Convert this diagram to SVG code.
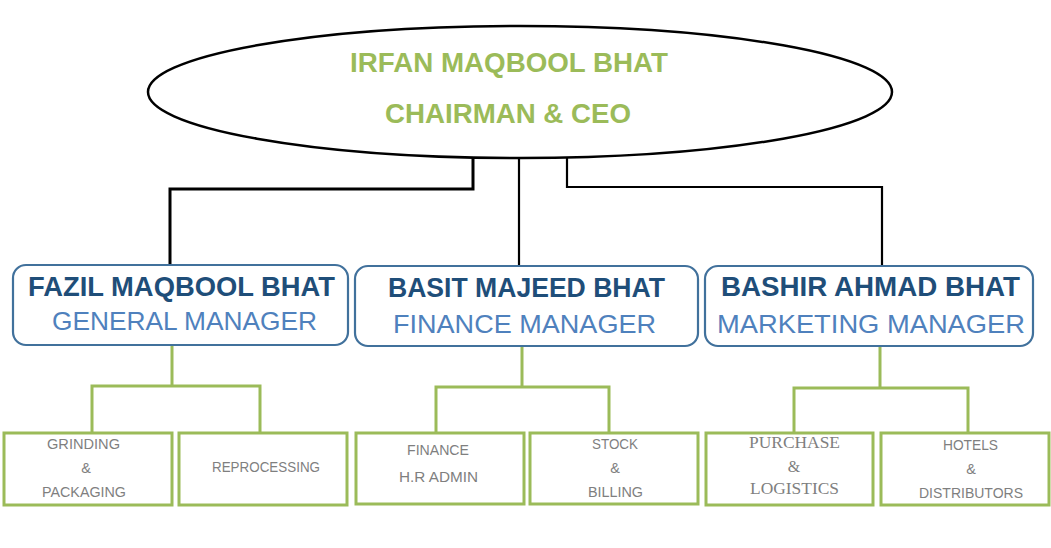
<svg xmlns="http://www.w3.org/2000/svg" width="1051" height="548" viewBox="0 0 1051 548">
<style>
.bg{fill:#ffffff}
.ceo{fill:#ffffff;stroke:#000000;stroke-width:2.5}
.ceot{font-family:"Liberation Sans",Arial,sans-serif;font-weight:bold;font-size:27px;fill:#9bbb59}
.mgr{fill:#ffffff;stroke:#41719c;stroke-width:2.2}
.name{font-family:"Liberation Sans",Arial,sans-serif;font-weight:bold;font-size:28px;fill:#1f4e79}
.role{font-family:"Liberation Sans",Arial,sans-serif;font-size:26px;fill:#4f81bd}
.leaf{fill:#ffffff;stroke:#9bbb59;stroke-width:3}
.lt{font-family:"Liberation Sans",Arial,sans-serif;font-size:14.5px;fill:#7f7f7f}
.lts{font-family:"Liberation Serif","Times New Roman",serif;font-size:16px;fill:#7f7f7f}
.blk{fill:none;stroke:#000000;stroke-width:2.2}
.grn{fill:none;stroke:#9bbb59;stroke-width:3}
</style>
<rect class="bg" x="0" y="0" width="1051" height="548"/>
<g id="connectors">
<polyline class="blk" points="473,158 473,189 170,189 170,266" style="stroke-width:3"/>
<line class="blk" x1="519" y1="158" x2="519" y2="266"/>
<polyline class="blk" points="567,158 567,187 882,187 882,266"/>
<polyline class="grn" points="172,345 172,386"/>
<polyline class="grn" points="92,433 92,386 260,386 260,433"/>
<polyline class="grn" points="522,346 522,387"/>
<polyline class="grn" points="436,433 436,387 609,387 609,433"/>
<polyline class="grn" points="880,346 880,388"/>
<polyline class="grn" points="794,433 794,388 968,388 968,433"/>
</g>
<g id="ceo">
<ellipse class="ceo" cx="520" cy="92" rx="372" ry="66"/>
<text class="ceot" x="350" y="72" textLength="318" lengthAdjust="spacingAndGlyphs">IRFAN MAQBOOL BHAT</text>
<text class="ceot" x="385" y="123" textLength="246" lengthAdjust="spacingAndGlyphs">CHAIRMAN &amp; CEO</text>
</g>
<g id="gm">
<rect class="mgr" x="13" y="265" width="335" height="80" rx="13"/>
<text class="name" x="28" y="296" textLength="307" lengthAdjust="spacingAndGlyphs">FAZIL MAQBOOL BHAT</text>
<text class="role" x="52" y="330" textLength="265" lengthAdjust="spacingAndGlyphs">GENERAL MANAGER</text>
</g>
<g id="fm">
<rect class="mgr" x="355" y="266" width="343" height="80" rx="13"/>
<text class="name" x="388" y="297" textLength="277" lengthAdjust="spacingAndGlyphs">BASIT MAJEED BHAT</text>
<text class="role" x="393" y="333" textLength="263" lengthAdjust="spacingAndGlyphs">FINANCE MANAGER</text>
</g>
<g id="mm">
<rect class="mgr" x="705" y="266" width="328" height="80" rx="13"/>
<text class="name" x="721" y="296" textLength="299" lengthAdjust="spacingAndGlyphs">BASHIR AHMAD BHAT</text>
<text class="role" x="717" y="333" textLength="308" lengthAdjust="spacingAndGlyphs">MARKETING MANAGER</text>
</g>
<g id="grinding">
<rect class="leaf" x="4" y="433" width="168" height="72"/>
<text class="lt" x="47" y="449" textLength="73" lengthAdjust="spacingAndGlyphs">GRINDING</text>
<text class="lt" x="86" y="473" text-anchor="middle">&amp;</text>
<text class="lt" x="42" y="497" textLength="84" lengthAdjust="spacingAndGlyphs">PACKAGING</text>
</g>
<g id="reprocessing">
<rect class="leaf" x="179" y="433" width="168" height="72"/>
<text class="lt" x="212" y="472" textLength="108" lengthAdjust="spacingAndGlyphs">REPROCESSING</text>
</g>
<g id="finance">
<rect class="leaf" x="356" y="433" width="168" height="71"/>
<text class="lt" x="407" y="455" textLength="62" lengthAdjust="spacingAndGlyphs">FINANCE</text>
<text class="lt" x="399" y="482" textLength="79" lengthAdjust="spacingAndGlyphs">H.R ADMIN</text>
</g>
<g id="stock">
<rect class="leaf" x="530" y="433" width="168" height="71"/>
<text class="lt" x="592" y="449" textLength="46" lengthAdjust="spacingAndGlyphs">STOCK</text>
<text class="lt" x="615" y="473" text-anchor="middle">&amp;</text>
<text class="lt" x="588" y="497" textLength="55" lengthAdjust="spacingAndGlyphs">BILLING</text>
</g>
<g id="purchase">
<rect class="leaf" x="706" y="433" width="167" height="72"/>
<text class="lts" x="749" y="448" textLength="91" lengthAdjust="spacingAndGlyphs">PURCHASE</text>
<text class="lts" x="794" y="472" text-anchor="middle">&amp;</text>
<text class="lts" x="750" y="494" textLength="89" lengthAdjust="spacingAndGlyphs">LOGISTICS</text>
</g>
<g id="hotels">
<rect class="leaf" x="881" y="433" width="168" height="72"/>
<text class="lt" x="943" y="450" textLength="55" lengthAdjust="spacingAndGlyphs">HOTELS</text>
<text class="lt" x="971" y="474" text-anchor="middle">&amp;</text>
<text class="lt" x="919" y="498" textLength="104" lengthAdjust="spacingAndGlyphs">DISTRIBUTORS</text>
</g>
</svg>
